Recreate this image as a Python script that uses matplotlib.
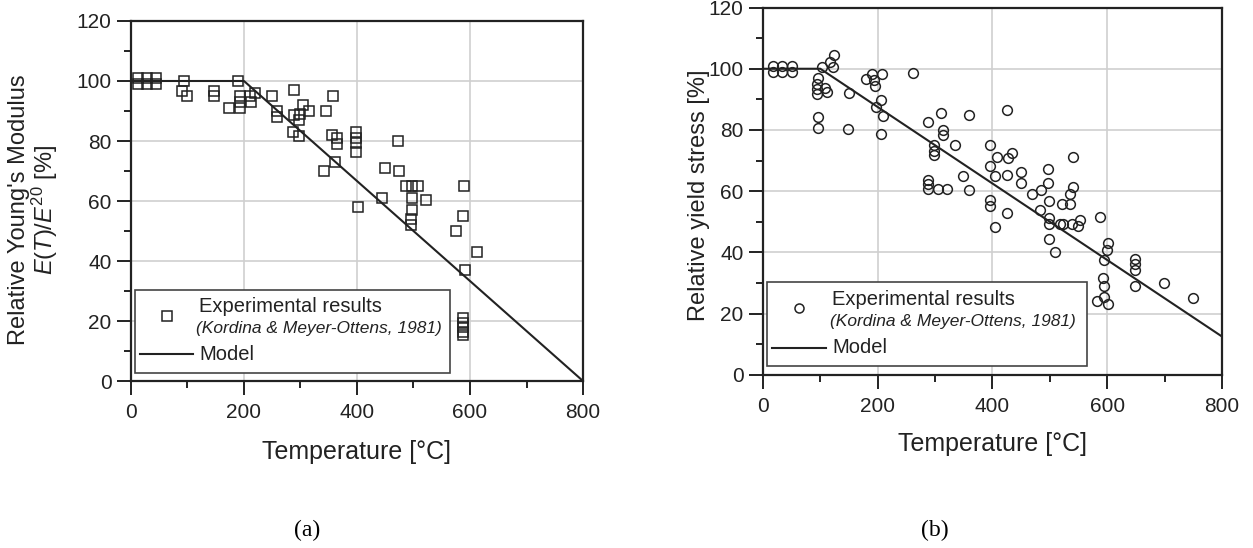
import matplotlib
matplotlib.use("Agg")
import matplotlib.pyplot as plt
from matplotlib.patches import Rectangle
from matplotlib.lines import Line2D
from matplotlib.ticker import MultipleLocator

plt.rcParams['font.family'] = ['Liberation Sans', 'DejaVu Sans']
plt.rcParams['mathtext.fontset'] = 'custom'
plt.rcParams['mathtext.rm'] = 'Liberation Sans'
plt.rcParams['mathtext.it'] = 'Liberation Sans:italic'

# (a) relative Young's modulus, Kordina & Meyer-Ottens 1981
temp_a = [13, 13, 29, 29, 45, 45, 94, 91, 99, 147, 147,
          174, 189, 193, 193, 193, 211, 213, 220, 249, 259, 259,
          288, 289, 287, 297, 297, 300, 305, 315,
          346, 358, 356, 365, 365, 341, 361,
          398, 398, 398, 398, 401, 473, 449, 474, 444,
          487, 497, 508, 497, 522, 497, 496, 496,
          589, 587, 575, 612, 591, 587, 587, 587, 587, 587]
modulus_a = [101, 99, 101, 99, 101, 99, 100, 96.5, 95, 96.5, 95,
             91, 100, 95, 93, 91, 95, 93, 96, 95, 90, 88,
             97, 88.7, 83, 81.7, 87, 89, 92, 90,
             90, 95, 82, 81, 79, 70, 73,
             83, 81, 79.5, 76.5, 58, 80, 71, 70, 61,
             65, 65, 65, 61, 60.5, 57, 54, 52,
             65, 55, 50, 43, 37, 21, 19.5, 18, 16.5, 15.5]
model_temp_a = [0, 200, 800]
model_a = [100, 100, 0]

# (b) relative yield stress
temp_b = [17, 17, 33, 33, 50, 50, 103, 116, 122, 124,
          96, 95, 95, 95, 108, 111, 96, 96, 150, 149,
          179, 190, 193, 195, 208, 206, 197, 210, 205, 261,
          288, 310, 313, 313, 298, 299, 299, 335, 360,
          288, 288, 288, 305, 321, 349, 360,
          396, 408, 396, 404, 396, 396, 404,
          426, 427, 434, 425, 426, 450, 450, 469, 484, 483,
          497, 497, 498, 498, 498, 498, 509,
          521, 535, 535, 541, 540, 518, 523, 538, 552, 550,
          587, 601, 600, 595, 592, 595, 595, 583, 601,
          649, 649, 649, 649, 699, 749]
yield_b = [101, 99, 101, 99, 101, 99, 100.7, 102.3, 100.7, 104.6,
           97, 95, 93.3, 91.6, 93.8, 92.4, 84.3, 80.7, 92.2, 80.4,
           96.5, 98.3, 96.3, 94.3, 98.3, 89.8, 87.4, 84.4, 78.7, 98.5,
           82.5, 85.6, 80, 78.3, 75, 73.2, 71.8, 75, 84.8,
           63.6, 62.2, 60.7, 60.6, 60.6, 65, 60.4,
           75, 71, 68.3, 65, 57, 55, 48.4,
           86.5, 70.7, 72.4, 65.4, 53, 66.3, 62.7, 59, 60.4, 54,
           67.4, 62.6, 56.9, 51.3, 49.2, 44.4, 40,
           55.7, 55.7, 59, 61.2, 71, 49.2, 49.2, 49.2, 50.5, 48.6,
           51.6, 43, 40.7, 37.6, 31.7, 29, 25.5, 24, 23,
           37.8, 36.1, 34.2, 29, 30, 25]
model_temp_b = [0, 100, 800]
model_b = [100, 100, 12.5]

ref_text = "(Kordina & Meyer-Ottens, 1981)"


def style_axes(ax):
    ax.set_xlim(0, 800)
    ax.set_ylim(0, 120)
    ax.xaxis.set_major_locator(MultipleLocator(200))
    ax.xaxis.set_minor_locator(MultipleLocator(100))
    ax.yaxis.set_major_locator(MultipleLocator(20))
    ax.yaxis.set_minor_locator(MultipleLocator(10))
    ax.grid(True, which='major', color='#cfcfcf', linewidth=1.2)
    ax.set_axisbelow(True)
    ax.tick_params(which='major', direction='out', length=10, width=1.4,
                   labelsize=15, color='#222222', labelcolor='#222222')
    ax.tick_params(axis='x', which='major', pad=6)
    ax.tick_params(axis='y', which='major', pad=4)
    ax.tick_params(which='minor', direction='out', length=5, width=1.4,
                   color='#222222')
    for s in ax.spines.values():
        s.set_linewidth(1.6)
        s.set_color('#222222')
    ax.set_xlabel("Temperature [°C]", fontsize=18, color='#222222')
    ax.xaxis.label.set_va('center')


def draw_legend(ax, marker, y_box=(0.023, 0.253), x_right=0.705):
    """hand-made legend box with the italic reference line"""
    x0, y0 = 0.008, y_box[0]
    ax.add_patch(Rectangle((x0, y0), x_right - x0, y_box[1] - y0,
                           transform=ax.transAxes, facecolor='white',
                           edgecolor='#444444', linewidth=1.2, zorder=5))
    ax.add_line(Line2D([0.079], [0.181], transform=ax.transAxes,
                       marker=marker, markersize=6.5, mfc='none',
                       mec='#222222', mew=1.1, zorder=6))
    ax.text(0.151, 0.206, "Experimental results", transform=ax.transAxes,
            fontsize=14.5, va='center', color='#222222', zorder=6)
    ax.text(0.145, 0.145, ref_text, transform=ax.transAxes, fontsize=12.5,
            style='italic', va='center', color='#222222', zorder=6)
    ax.add_line(Line2D([0.02, 0.138], [0.074, 0.074], transform=ax.transAxes,
                       color='#222222', linewidth=1.5, zorder=6))
    ax.text(0.151, 0.074, "Model", transform=ax.transAxes, fontsize=14.5,
            va='center', color='#222222', zorder=6)


fig = plt.figure(figsize=(12.53, 5.48), dpi=100)
ax1 = fig.add_axes([0.1045, 0.3047, 0.3608, 0.657])
ax2 = fig.add_axes([0.6089, 0.3162, 0.3663, 0.670])

# panel (a)
style_axes(ax1)
ax1.plot(temp_a, modulus_a, linestyle='none', marker='s', markersize=6.5,
         mfc='none', mec='#222222', mew=1.1, zorder=3)
ax1.plot(model_temp_a, model_a, color='#222222', linewidth=1.5, zorder=4)
ax1.set_ylabel("Relative Young's Modulus\n$E(T)/E^{20}$ [%]",
               fontsize=17, color='#222222', linespacing=1.0)
ax1.yaxis.label.set_va('center')
ax1.yaxis.set_label_coords(-0.215, 0.475)
ax1.xaxis.set_label_coords(0.5, -0.197)
draw_legend(ax1, 's')

# panel (b)
style_axes(ax2)
ax2.plot(temp_b, yield_b, linestyle='none', marker='o', markersize=7,
         mfc='none', mec='#222222', mew=1.1, zorder=3)
ax2.plot(model_temp_b, model_b, color='#222222', linewidth=1.5, zorder=4)
ax2.set_ylabel("Relative yield stress [%]", fontsize=17, color='#222222')
ax2.yaxis.label.set_va('center')
ax2.yaxis.set_label_coords(-0.14, 0.49)
ax2.xaxis.set_label_coords(0.5, -0.19)
draw_legend(ax2, 'o')

fig.text(307 / 1253, 1 - 530 / 548, "(a)", family='Liberation Serif',
         fontsize=17, ha='center', va='center')
fig.text(935 / 1253, 1 - 530 / 548, "(b)", family='Liberation Serif',
         fontsize=17, ha='center', va='center')

fig.savefig("out.png", dpi=100)
